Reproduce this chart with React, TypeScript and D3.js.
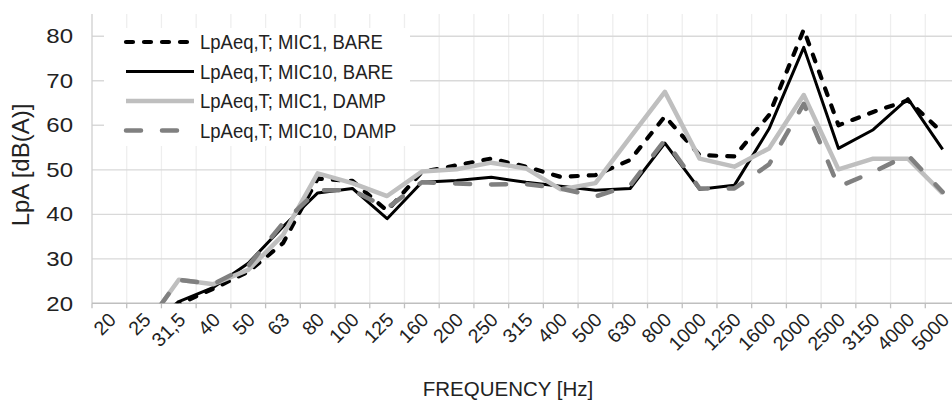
import React, { useRef, useEffect } from "react";
import * as d3 from "d3";

const categories = ["20", "25", "31,5", "40", "50", "63", "80", "100", "125", "160", "200", "250", "315", "400", "500", "630", "800", "1000", "1250", "1600", "2000", "2500", "3150", "4000", "5000"];

const mic1Bare = [12, 15, 19.8, 23.3, 27.1, 33.5, 48, 47.5, 40.8, 49.5, 51, 52.5, 50.7, 48.4, 48.8, 52.2, 62, 53.3, 53, 62.3, 81.5, 60, 63, 65.6, 58.3];
const mic10Bare = [10, 14, 20.4, 23.6, 29, 37.2, 44.8, 45.8, 39, 47.2, 47.6, 48.3, 47.2, 46.3, 45.4, 45.8, 56, 45.6, 46.5, 59.2, 77.5, 54.8, 59, 66, 54.6];
const mic1Damp = [8, 14.4, 25.3, 24.3, 27.5, 35.3, 49.2, 47, 44.1, 49.6, 50.1, 51.6, 50.3, 45.6, 47, 57.3, 67.5, 52.5, 50.7, 54.8, 66.8, 50.1, 52.5, 52.5, 44.7];
const mic10Damp = [8, 14.4, 25.3, 24.3, 28.4, 38, 45.4, 45.4, 41.4, 47.2, 46.9, 46.7, 46.8, 45.8, 44, 46.5, 56.7, 45.8, 45.8, 51.2, 64.8, 46.2, 49.5, 53.3, 45];

const seriesNames = ["LpAeq,T; MIC1, BARE", "LpAeq,T; MIC10, BARE", "LpAeq,T; MIC1, DAMP", "LpAeq,T; MIC10, DAMP"];
const yTicks = [20, 30, 40, 50, 60, 70, 80];

const styles = [
  { color: "#000000", width: 4.2, dash: "7,11" },
  { color: "#000000", width: 3, dash: null },
  { color: "#bfbfbf", width: 4.5, dash: null },
  { color: "#808080", width: 4.5, dash: "15,21" },
];

const FONT = "'Liberation Sans', Arial, sans-serif";

const App = () => {
  const ref = useRef<SVGSVGElement>(null);

  useEffect(() => {
    document.body.style.margin = "0";
    const width = 952;
    const height = 408;
    const left = 92;
    const right = 960;
    const top = 14;
    const bottom = 303.3;

    const svg = d3.select(ref.current).attr("width", width).attr("height", height);
    svg.selectAll("*").remove();

    const x = d3.scaleBand<string>().domain(categories).range([left, right]).padding(0);
    const y = d3.scaleLinear().domain([20, 85]).range([bottom, top]);
    const bw = x.bandwidth();
    const cx = (c: string) => (x(c) as number) + bw / 2;

    // vertical gridlines (between categories)
    svg.append("g")
      .selectAll("line")
      .data(categories.slice(1))
      .enter()
      .append("line")
      .attr("x1", (d) => x(d) as number)
      .attr("x2", (d) => x(d) as number)
      .attr("y1", top)
      .attr("y2", bottom)
      .attr("stroke", "#eeeeee")
      .attr("stroke-width", 1.3);

    // horizontal gridlines
    svg.append("g")
      .selectAll("line")
      .data(yTicks.slice(1))
      .enter()
      .append("line")
      .attr("x1", left)
      .attr("x2", right)
      .attr("y1", (d) => y(d))
      .attr("y2", (d) => y(d))
      .attr("stroke", "#d9d9d9")
      .attr("stroke-width", 1.3);

    // axes lines
    svg.append("line")
      .attr("x1", left).attr("x2", left).attr("y1", top).attr("y2", bottom)
      .attr("stroke", "#d0d0d0").attr("stroke-width", 1.3);
    svg.append("line")
      .attr("x1", left).attr("x2", right).attr("y1", bottom).attr("y2", bottom)
      .attr("stroke", "#bfbfbf").attr("stroke-width", 1.5);

    // x tick marks
    svg.append("g")
      .selectAll("line")
      .data(categories)
      .enter()
      .append("line")
      .attr("x1", (d) => x(d) as number)
      .attr("x2", (d) => x(d) as number)
      .attr("y1", bottom)
      .attr("y2", bottom + 5)
      .attr("stroke", "#bfbfbf")
      .attr("stroke-width", 1.3);

    // y tick labels
    svg.append("g")
      .selectAll("text")
      .data(yTicks)
      .enter()
      .append("text")
      .attr("transform", (d) => `translate(73,${y(d)}) scale(1.2,1)`)
      .attr("dy", "0.36em")
      .attr("text-anchor", "end")
      .style("font-family", FONT)
      .style("font-size", "20px")
      .style("fill", "#222")
      .text((d) => d);

    // x tick labels
    svg.append("g")
      .selectAll("text")
      .data(categories)
      .enter()
      .append("text")
      .attr("transform", (d) => `translate(${cx(d) + 3},${bottom + 13}) rotate(-45)`)
      .attr("dy", "0.35em")
      .attr("text-anchor", "end")
      .style("font-family", FONT)
      .style("font-size", "19.5px")
      .style("fill", "#222")
      .text((d) => d);

    // axis titles
    svg.append("text")
      .attr("x", 508)
      .attr("y", 396)
      .attr("text-anchor", "middle")
      .style("font-family", FONT)
      .style("font-size", "20.5px")
      .style("fill", "#222")
      .text("FREQUENCY [Hz]");
    svg.append("text")
      .attr("transform", `translate(29,165) rotate(-90)`)
      .attr("text-anchor", "middle")
      .style("font-family", FONT)
      .style("font-size", "24px")
      .style("fill", "#222")
      .text("LpA [dB(A)]");

    // lines
    svg.append("clipPath").attr("id", "plotclip")
      .append("rect")
      .attr("x", left).attr("y", top - 5).attr("width", right - left).attr("height", bottom - top + 5);

    const allSeries = [mic1Bare, mic10Bare, mic1Damp, mic10Damp];
    const line = d3.line<number>()
      .x((_, i) => cx(categories[i]))
      .y((d) => y(d));

    // legend background
    svg.append("rect")
      .attr("x", 104).attr("y", 28).attr("width", 306).attr("height", 118)
      .attr("fill", "#ffffff");

    const plot = svg.append("g").attr("clip-path", "url(#plotclip)");
    allSeries.forEach((s, k) => {
      plot.append("path")
        .datum(s)
        .attr("d", line)
        .attr("fill", "none")
        .attr("stroke", styles[k].color)
        .attr("stroke-width", styles[k].width)
        .attr("stroke-dasharray", styles[k].dash)
        .attr("stroke-linecap", styles[k].dash ? "round" : "butt")
        .attr("stroke-linejoin", "round");
    });

    // legend
    const legend = svg.append("g");
    seriesNames.forEach((name, k) => {
      const ly = 42 + k * 29.5;
      legend.append("line")
        .attr("x1", 126).attr("x2", 194).attr("y1", ly).attr("y2", ly)
        .attr("stroke", styles[k].color)
        .attr("stroke-width", styles[k].width)
        .attr("stroke-dasharray", styles[k].dash)
        .attr("stroke-linecap", styles[k].dash ? "round" : "butt");
      legend.append("text")
        .attr("transform", `translate(200,${ly}) scale(1,1.12)`)
        .attr("dy", "0.36em")
        .style("font-family", FONT)
        .style("font-size", "18.5px")
        .style("fill", "#222")
        .text(name);
    });
  }, []);

  return <svg ref={ref} style={{ display: "block" }}></svg>;
};

export default App;
